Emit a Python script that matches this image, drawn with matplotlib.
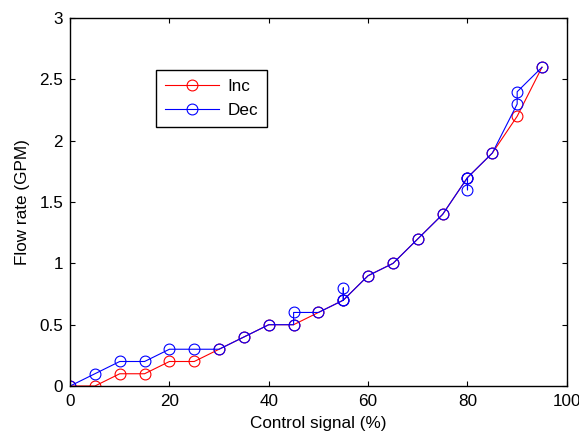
import matplotlib
matplotlib.use("Agg")
import matplotlib.pyplot as plt

plt.rcParams["font.family"] = ["Liberation Sans", "DejaVu Sans"]

# increasing control signal sweep
inc_x = [0, 5, 10, 15, 20, 25, 30, 35, 40, 45, 50, 55, 60, 65, 70, 75, 80, 85, 90, 95]
inc_y = [0, 0, 0.1, 0.1, 0.2, 0.2, 0.3, 0.4, 0.5, 0.5, 0.6, 0.7, 0.9, 1.0, 1.2, 1.4, 1.7, 1.9, 2.2, 2.6]

# decreasing sweep (repeat readings at 90, 80, 55 and 45 %)
dec_x = [95, 90, 90, 85, 80, 80, 80, 75, 70, 65, 60, 55, 55, 55, 50, 45, 45, 40, 35, 30, 25, 20, 15, 10, 5, 0]
dec_y = [2.6, 2.4, 2.3, 1.9, 1.7, 1.6, 1.7, 1.4, 1.2, 1.0, 0.9, 0.7, 0.8, 0.7, 0.6, 0.6, 0.5, 0.5, 0.4, 0.3,
         0.3, 0.3, 0.2, 0.2, 0.1, 0]

xticks = [0, 20, 40, 60, 80, 100]
yticks = [0, 0.5, 1, 1.5, 2, 2.5, 3]
ytick_labels = ["0", "0.5", "1", "1.5", "2", "2.5", "3"]

FS = 12.3

fig = plt.figure(figsize=(5.79, 4.33), dpi=100)
ax = fig.add_axes([0.121, 0.1085, 0.858, 0.8495])

ax.plot(inc_x, inc_y, "-o", color="red", lw=0.8, ms=7.8, mfc="none", mew=0.8, label="Inc")
ax.plot(dec_x, dec_y, "-o", color="blue", lw=0.8, ms=7.8, mfc="none", mew=0.8, label="Dec")

ax.set_xlim(0, 100)
ax.set_ylim(0, 3)
ax.set_xticks(xticks)
ax.set_yticks(yticks)
ax.set_yticklabels(ytick_labels)
ax.tick_params(direction="in", length=3.5, width=0.8, top=True, right=True, labelsize=FS)
ax.tick_params(axis="x", pad=5.5)
ax.tick_params(axis="y", pad=5)
for s in ax.spines.values():
    s.set_linewidth(1.0)
ax.set_xlabel("Control signal (%)", fontsize=FS, labelpad=5)
ax.set_ylabel("Flow rate (GPM)", fontsize=FS, labelpad=7)

leg = ax.legend(loc="upper left", bbox_to_anchor=(0.173, 0.859), fontsize=FS, fancybox=False,
                edgecolor="black", framealpha=1, handlelength=3.2, handletextpad=0.5,
                labelspacing=0.55, borderpad=0.5, borderaxespad=0)
leg.get_frame().set_linewidth(1.0)

fig.savefig("out.png", dpi=100)
